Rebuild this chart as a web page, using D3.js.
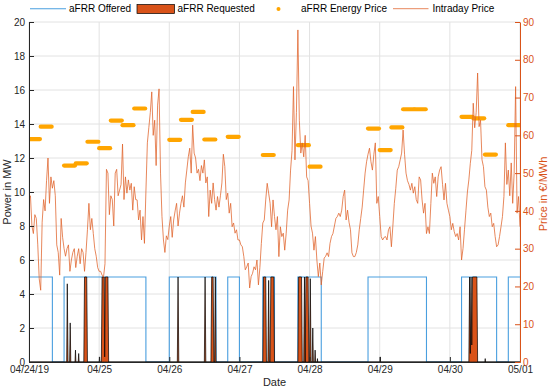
<!DOCTYPE html>
<html>
<head>
<meta charset="utf-8">
<title>aFRR and intraday prices</title>
<script src="https://d3js.org/d3.v7.min.js"></script>
<style>
body { margin: 0; background: #fff; }
svg text { font-family: "Liberation Sans", Arial, Helvetica, sans-serif; }
</style>
</head>
<body>
<div id="chart"></div>
<script>

// ---- data ----
var dayLabels = ["04/24/19", "04/25", "04/26", "04/27", "04/28", "04/29", "04/30", "05/01"];

// aFRR offered power (step, value holds until next hour)
var offeredHours = [0, 8, 12, 40, 48, 64, 68, 72, 80, 84, 92, 100, 116, 136, 148, 160, 164, 168];
var offeredMW    = [5, 0, 5, 0, 5, 0, 5, 0, 5, 0, 5, 0, 5, 0, 5, 0, 5, 5];

// aFRR requested power (hours since 04/24 00:00)
var reqHours = [0, 12.9, 13.1, 13.35, 13.9, 14.1, 14.3, 15.75, 15.9, 16.05, 16.85, 17, 17.15, 18.75, 19, 19.75, 20,
  24, 24.1, 24.2, 24.75, 25, 25.75, 25.9, 26.1, 27, 27.25, 50.75, 51, 51.25, 60, 60.25, 60.5, 62.25, 62.5, 63, 63.25,
  63.5, 63.75, 64, 80, 80.25, 81, 81.25, 81.75, 82, 82.25, 82.5, 82.75, 83.75, 84, 92, 92.25, 93.25, 93.5, 94, 94.25,
  94.5, 94.75, 95.5, 95.75, 96, 96.25, 96.5, 96.9, 97.1, 97.3, 97.75, 97.9, 98.05, 98.6, 98.7, 98.8, 120.1, 120.2,
  120.3, 150.5, 150.75, 151, 151.25, 151.5, 151.75, 153.25, 153.5, 156, 156.1, 156.2, 168];
var reqMW = [0, 0, 4.6, 0, 0, 2.3, 0, 0, 0.7, 0, 0, 0.5, 0, 0, 5, 5, 0,
  0, 0.3, 0, 0, 5, 5, 0.3, 5, 5, 0, 0, 5, 0, 0, 5, 0, 0, 5, 5, 0,
  0, 5, 0, 0, 5, 5, 0, 0, 4.8, 0, 0, 5, 5, 0, 0, 5, 5, 0, 0, 5,
  0, 5, 5, 0, 0, 4.9, 0, 0, 2.0, 0, 0, 0.7, 0, 0, 0.2, 0, 0, 0.3,
  0, 0, 5, 0.5, 5, 1, 5, 5, 0, 0, 0.2, 0, 0];

// aFRR energy price, 4 hour blocks (start hour, EUR/MWh)
var energyStart = [0, 4, 12, 16, 20, 24, 28, 32, 36, 48, 52, 56, 60, 68, 80, 92, 96, 116, 120, 124, 128, 132, 148, 152, 156, 164];
var energyPrice = [59, 62.3, 52, 52.6, 58.3, 56.6, 63.9, 62.7, 67.1, 58.8, 64.1, 66.2, 58.9, 59.6, 54.8, 57.4, 51.7,
  61.8, 56.1, 62.1, 66.9, 66.9, 64.9, 64.5, 54.9, 62.7];

// intraday price, half-hourly from 04/24 00:00 to 05/01 00:00 (EUR/MWh)
var intradayPrice = [
  43, 44, 36, 34, 39, 38, 31, 22, 19, 37, 43, 40, 48, 54, 42, 49, 46, 48, 44, 31, 29, 23, 38, 33,
  30, 28, 30, 31, 24, 27, 29, 30, 25, 28, 30, 26, 30, 29, 24, 29, 35, 42, 35, 38, 34, 30, 28, 25,
  24, 24, 23, 22.5, 26, 51, 50, 39, 44, 43, 36, 50, 51, 44, 45.5, 47, 57.7, 43, 49, 44.7, 48.2, 45.5, 47.3, 40.2,
  46.4, 43, 42.9, 37.6, 40.2, 32.3, 38.5, 31.4, 45, 58, 62, 66, 71.5, 60, 64, 52, 68, 72.3, 50, 38.5, 32.3, 29, 33.4, 32.4,
  36, 38.5, 33, 37.6, 40, 42, 36, 39.4, 42, 44, 41, 47.4, 50.8, 54.3, 56.6, 50, 62.7, 55.3, 54, 50, 51, 48, 52, 50,
  53.5, 47.4, 49, 38.5, 45.5, 42, 47.4, 43, 40.2, 43.8, 41, 44, 47.4, 55, 51.7, 43, 44.7, 39.4, 42, 35.8, 36.8, 34.1, 35, 32.3,
  32.3, 31, 30.5, 27.9, 24.4, 25.2, 26.2, 19.6, 22.6, 23.5, 25.2, 24.4, 27, 20.4, 25, 31.4, 36.8, 37.6, 42.9, 47.3, 44.7, 42, 35.8, 42.9,
  38.5, 35, 38.5, 27.9, 35.8, 33.2, 34.1, 29.6, 34.1, 40.2, 42.9, 50.8, 56, 72.9, 53.5, 66, 87.9, 64, 55.3, 58, 54.3, 60, 49, 48,
  42, 36, 34.1, 29.6, 33.2, 27, 22.6, 26.2, 20.4, 24, 27.5, 28, 28.9, 27.9, 31.4, 33.2, 34, 36, 38, 38.5, 39.4, 38.5, 40.2, 43.8,
  45.5, 37.6, 40.2, 37, 35, 28.9, 27.9, 27.9, 29, 31, 35, 38, 41, 45.5, 50, 53, 55, 56.6, 53, 50.8, 55, 58, 42, 43.8,
  38.5, 33.2, 32.3, 33, 33.2, 32.3, 35, 35.8, 30.5, 36, 42, 46, 50.8, 51.7, 53.5, 55.3, 61.4, 55, 50, 48, 47, 45.5, 47.3, 44.7,
  46.4, 43, 42, 49, 48.2, 42.9, 39.4, 42, 34, 35.8, 34, 42, 50, 47.3, 49, 43.8, 49, 50.8, 51.7, 47, 42.9, 47.3, 42, 40.2,
  38.5, 35, 36.7, 34.5, 33.2, 34, 32.3, 35.8, 27, 30, 35, 40, 45, 48.2, 52.6, 56, 68.5, 62, 66, 76.5, 62.3, 64, 53.5, 51.7,
  46.4, 45.5, 41, 38.5, 39.4, 35.8, 36.7, 33.2, 30.5, 31, 33.2, 35.8, 38.5, 43.8, 58, 47, 50.8, 44, 52.7, 42, 50, 72.9, 39.4, 43.8,
  35.8];

// ---- layout ----
var width = 550, height = 390;
var plotLeft = 29, plotRight = 520, plotTop = 22, plotBottom = 362;

var blue = "#4a9fdf", red = "#d95319", gold = "#ffa500", axisGray = "#262626";

var t0 = Date.UTC(2019, 3, 24);
function hourDate(h) { return new Date(t0 + h * 3600e3); }

var x = d3.scaleUtc().domain([hourDate(0), hourDate(168)]).range([plotLeft, plotRight]);
var yL = d3.scaleLinear().domain([0, 20]).range([plotBottom, plotTop]);
var yR = d3.scaleLinear().domain([0, 90]).range([plotBottom, plotTop]);

var svg = d3.select("#chart").append("svg")
  .attr("width", width)
  .attr("height", height);

svg.append("defs").append("clipPath").attr("id", "plot")
  .append("rect").attr("x", plotLeft).attr("y", plotTop - 1)
  .attr("width", plotRight - plotLeft).attr("height", plotBottom - plotTop + 1);

// grid
var days = d3.utcDay.range(hourDate(0), hourDate(169));
svg.append("g").selectAll("line").data(days).enter().append("line")
  .attr("x1", function(d){ return x(d); }).attr("x2", function(d){ return x(d); })
  .attr("y1", plotTop).attr("y2", plotBottom)
  .attr("stroke", "#e2e2e2");
svg.append("g").selectAll("line").data(d3.range(0, 21, 2)).enter().append("line")
  .attr("x1", plotLeft).attr("x2", plotRight)
  .attr("y1", function(d){ return yL(d); }).attr("y2", function(d){ return yL(d); })
  .attr("stroke", "#e2e2e2");

var plot = svg.append("g").attr("clip-path", "url(#plot)");

// offered (step line)
var offered = offeredHours.map(function(h, i){ return { t: hourDate(h), v: offeredMW[i] }; });
plot.append("path")
  .datum(offered)
  .attr("fill", "none")
  .attr("stroke", blue)
  .attr("stroke-width", 1.1)
  .attr("d", d3.line().curve(d3.curveStepAfter)
    .x(function(d){ return x(d.t); })
    .y(function(d){ return yL(d.v); }));

// requested (area)
var requested = reqHours.map(function(h, i){ return { t: hourDate(h), v: reqMW[i] }; });
plot.append("path")
  .datum(requested)
  .attr("fill", red)
  .attr("stroke", "#000")
  .attr("stroke-width", 0.7)
  .attr("d", d3.area()
    .x(function(d){ return x(d.t); })
    .y0(yL(0))
    .y1(function(d){ return yL(d.v); }));

// energy price blocks (dense dots -> thick bar)
var energy = energyStart.map(function(h, i){ return { a: hourDate(h), b: hourDate(h + 3.75), v: energyPrice[i] }; });
plot.append("g").selectAll("line").data(energy).enter().append("line")
  .attr("x1", function(d){ return x(d.a); })
  .attr("x2", function(d){ return x(d.b); })
  .attr("y1", function(d){ return yR(d.v); })
  .attr("y2", function(d){ return yR(d.v); })
  .attr("stroke", gold)
  .attr("stroke-width", 4.2)
  .attr("stroke-linecap", "round");

// intraday price line
plot.append("path")
  .datum(intradayPrice)
  .attr("fill", "none")
  .attr("stroke", "#e0622a")
  .attr("stroke-opacity", 0.85)
  .attr("stroke-width", 0.9)
  .attr("stroke-linejoin", "round")
  .attr("d", d3.line()
    .x(function(d, i){ return x(hourDate(i * 0.5)); })
    .y(function(d){ return yR(d); }));

// axes
var xAxis = svg.append("g")
  .attr("transform", "translate(0," + plotBottom + ")")
  .call(d3.axisBottom(x).tickValues(days)
    .tickFormat(function(d, i){ return dayLabels[i]; })
    .tickSizeInner(-5).tickSizeOuter(0).tickPadding(4));
xAxis.selectAll("text").attr("font-size", 10).attr("fill", axisGray);
xAxis.selectAll("line, path").attr("stroke", axisGray);

var yAxisL = svg.append("g")
  .attr("transform", "translate(" + plotLeft + ",0)")
  .call(d3.axisLeft(yL).tickValues(d3.range(0, 21, 2))
    .tickSizeInner(-5).tickSizeOuter(0).tickPadding(4));
yAxisL.selectAll("text").attr("font-size", 10).attr("fill", axisGray);
yAxisL.selectAll("line, path").attr("stroke", axisGray);

var yAxisR = svg.append("g")
  .attr("transform", "translate(" + plotRight + ",0)")
  .call(d3.axisRight(yR).tickValues(d3.range(0, 91, 10))
    .tickSizeInner(-5).tickSizeOuter(0).tickPadding(3));
yAxisR.selectAll("text").attr("font-size", 10).attr("fill", red);
yAxisR.selectAll("line, path").attr("stroke", red);

// axis labels
svg.append("text")
  .attr("transform", "translate(11,192) rotate(-90)")
  .attr("text-anchor", "middle")
  .attr("font-size", 11)
  .attr("fill", axisGray)
  .text("Power in MW");
svg.append("text")
  .attr("transform", "translate(547,194) rotate(-90)")
  .attr("text-anchor", "middle")
  .attr("font-size", 11)
  .attr("fill", red)
  .text("Price in €/MWh");
svg.append("text")
  .attr("x", (plotLeft + plotRight) / 2)
  .attr("y", 386)
  .attr("text-anchor", "middle")
  .attr("font-size", 11)
  .attr("fill", axisGray)
  .text("Date");

// legend
var legend = svg.append("g").attr("font-size", 10).attr("fill", "#000");
legend.append("line").attr("x1", 30).attr("x2", 66).attr("y1", 8.7).attr("y2", 8.7)
  .attr("stroke", blue).attr("stroke-width", 1.1);
legend.append("text").attr("x", 69).attr("y", 12.4).text("aFRR Offered");
legend.append("rect").attr("x", 137).attr("y", 4.5).attr("width", 37.5).attr("height", 9)
  .attr("fill", red).attr("stroke", "#000").attr("stroke-width", 0.7);
legend.append("text").attr("x", 177.5).attr("y", 12.4).text("aFRR Requested");
legend.append("circle").attr("cx", 278.5).attr("cy", 9).attr("r", 2).attr("fill", gold);
legend.append("text").attr("x", 301).attr("y", 12.4).text("aFRR Energy Price");
legend.append("line").attr("x1", 393).attr("x2", 428.5).attr("y1", 8.7).attr("y2", 8.7)
  .attr("stroke", "#e0622a").attr("stroke-opacity", 0.85).attr("stroke-width", 0.9);
legend.append("text").attr("x", 432.5).attr("y", 12.4).text("Intraday Price");

</script>
</body>
</html>
